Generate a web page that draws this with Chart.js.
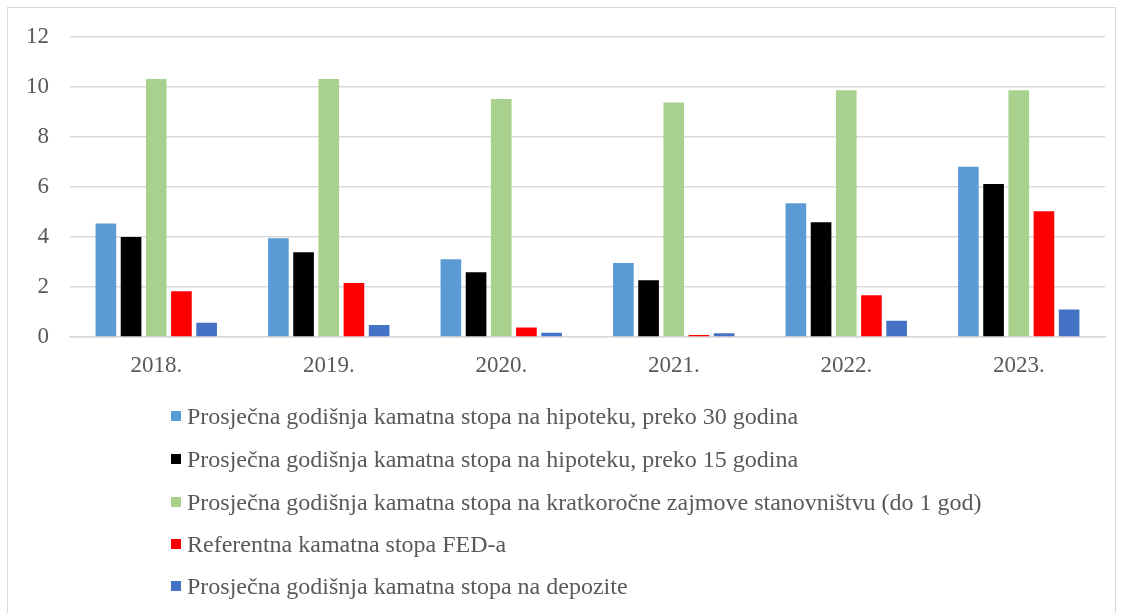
<!DOCTYPE html>
<html>
<head>
<meta charset="utf-8">
<script src="https://cdn.jsdelivr.net/npm/chart.js@4.4.1/dist/chart.umd.min.js"></script>
<style>
  html, body { margin: 0; padding: 0; background: #ffffff; overflow: hidden; }
  #wrap { position: relative; width: 1123px; height: 613px; }
  #frame { position: absolute; left: 7px; top: 7px; width: 1109px; height: 630px; border: 1.5px solid #d9d9d9; box-sizing: border-box; }
  #c { position: absolute; left: 0; top: 0; }
  #legend { position: absolute; left: 171px; top: 0; font-family: "Liberation Serif", "Times New Roman", serif; font-size: 24px; color: #595959; }
  .item { position: absolute; left: 0; white-space: nowrap; display: flex; align-items: center; line-height: 1; }
  .box { width: 10px; height: 10px; margin-right: 6px; flex: none; }
</style>
</head>
<body>
<div id="wrap">
  <div id="frame"></div>
  <canvas id="c" width="1123" height="613"></canvas>
  <div id="legend"></div>
</div>
<script>
const categories = ["2018.", "2019.", "2020.", "2021.", "2022.", "2023."];
const seriesNames = [
  "Prosječna godišnja kamatna stopa na hipoteku, preko 30 godina",
  "Prosječna godišnja kamatna stopa na hipoteku, preko 15 godina",
  "Prosječna godišnja kamatna stopa na kratkoročne zajmove stanovništvu (do 1 god)",
  "Referentna kamatna stopa FED-a",
  "Prosječna godišnja kamatna stopa na depozite"
];
const mortgage30 = [4.54, 3.95, 3.11, 2.96, 5.35, 6.81];
const mortgage15 = [4.00, 3.39, 2.59, 2.27, 4.59, 6.12];
const shortTermLoans = [10.32, 10.32, 9.52, 9.38, 9.87, 9.87];
const fedRate = [1.83, 2.16, 0.38, 0.08, 1.67, 5.03];
const deposits = [0.57, 0.48, 0.17, 0.15, 0.65, 1.10];
const yTicks = [0, 2, 4, 6, 8, 10, 12];

const colors = ["#5B9BD5", "#000000", "#A9D18E", "#FF0000", "#4472C4"];
const seriesValues = [mortgage30, mortgage15, shortTermLoans, fedRate, deposits];

const datasets = seriesNames.map((name, i) => ({
  label: name,
  data: seriesValues[i],
  backgroundColor: colors[i],
  borderWidth: 0,
  categoryPercentage: 0.73,
  barPercentage: 0.82
}));

const FONT = "'Liberation Serif', 'Times New Roman', serif";
const chart = new Chart(document.getElementById('c'), {
  type: 'bar',
  data: { labels: categories, datasets },
  options: {
    responsive: false,
    animation: false,
    devicePixelRatio: 1,
    layout: { padding: { left: 0, right: 18, top: 37, bottom: 216 } },
    plugins: { legend: { display: false }, tooltip: { enabled: false } },
    scales: {
      x: {
        grid: { display: false, drawTicks: false },
        border: { display: true, color: '#d9d9d9', width: 1.5 },
        ticks: { color: '#595959', font: { family: FONT, size: 23 }, padding: 15 },
        afterFit: s => { s.height = 60; }
      },
      y: {
        min: 0, max: 12,
        afterBuildTicks: s => { s.ticks = yTicks.map(v => ({ value: v })); },
        grid: { color: '#d9d9d9', lineWidth: 1.5, drawTicks: false },
        border: { display: false },
        ticks: { color: '#595959', font: { family: FONT, size: 23 }, padding: 21 },
        afterFit: s => { s.width = 70; }
      }
    }
  }
});

// Legend (vertical list, built from datasets)
const legend = document.getElementById('legend');
const rowCenters = [416, 459, 502, 544, 586];
chart.data.datasets.forEach((ds, i) => {
  const item = document.createElement('div');
  item.className = 'item';
  item.style.top = (rowCenters[i] - 12) + 'px';
  item.style.height = '24px';
  const box = document.createElement('span');
  box.className = 'box';
  box.style.background = ds.backgroundColor;
  const txt = document.createElement('span');
  txt.textContent = ds.label;
  item.appendChild(box);
  item.appendChild(txt);
  legend.appendChild(item);
});
</script>
</body>
</html>
